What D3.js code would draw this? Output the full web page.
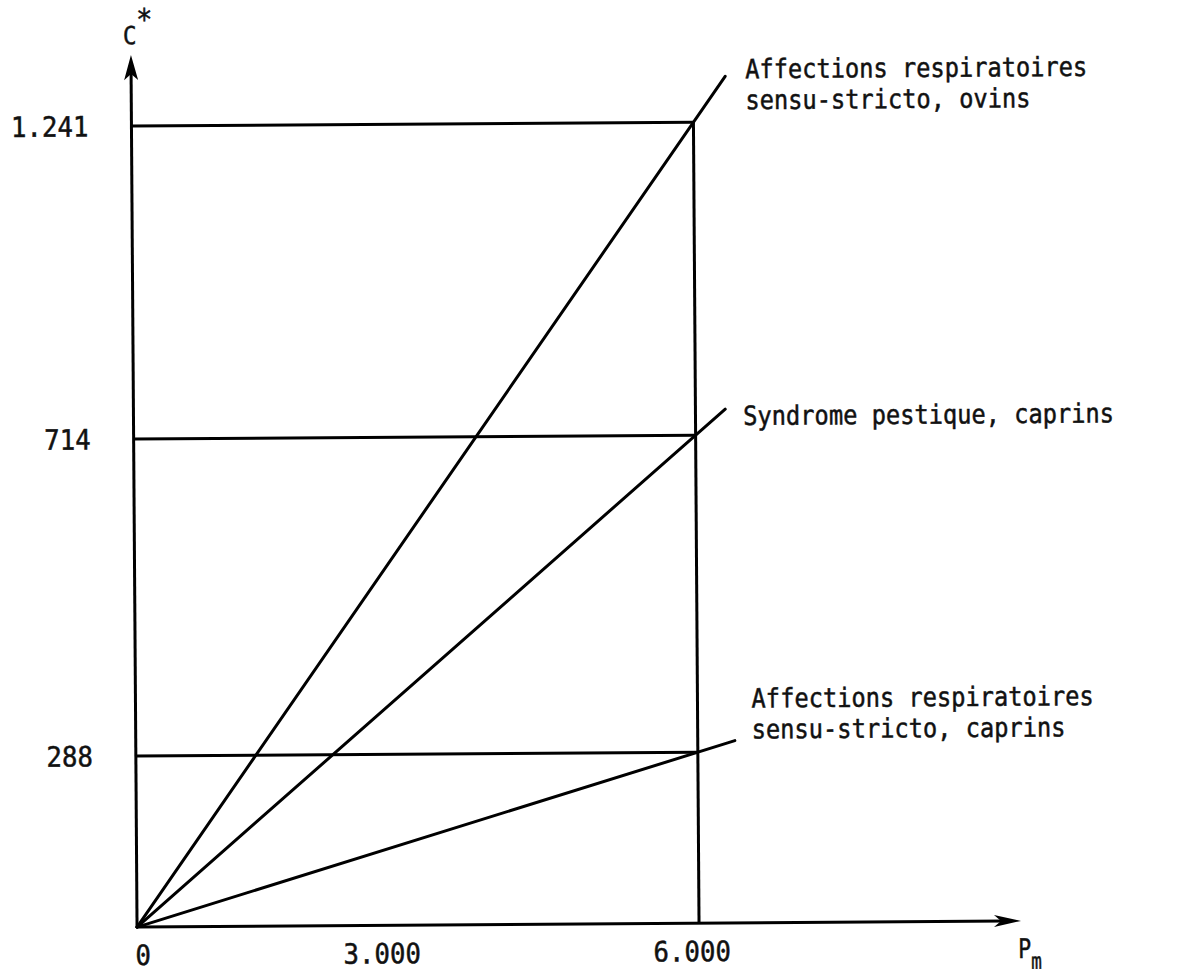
<!DOCTYPE html>
<html>
<head>
<meta charset="utf-8">
<script src="https://cdn.jsdelivr.net/npm/d3@7"></script>
<style>
  html, body { margin: 0; padding: 0; background: #fff; }
  svg { display: block; }
  text { font-family: "DejaVu Sans Mono", "Liberation Mono", monospace; fill: #111; stroke: #111; stroke-width: 0.5px; }
</style>
</head>
<body>
<svg id="chart" width="1199" height="975"></svg>
<script>
// ---------- data ----------
const seriesNames = [
  "Affections respiratoires sensu-stricto, ovins",
  "Syndrome pestique, caprins",
  "Affections respiratoires sensu-stricto, caprins"
];
const seriesLabelLines = [
  ["Affections respiratoires", "sensu-stricto, ovins"],
  ["Syndrome pestique, caprins"],
  ["Affections respiratoires", "sensu-stricto, caprins"]
];
const pmValues = [6000, 6000, 6000];      // P_m at the reference point
const cValues  = [1241, 714, 288];        // C* at the reference point
const xTicks = [0, 3000, 6000];
const xTickLabels = ["0", "3.000", "6.000"];
const yTicks = [288, 714, 1241];
const yTickLabels = ["288", "714", "1.241"];
const xAxisTitle = "P";
const xAxisTitleSub = "m";
const yAxisTitle = "C";
const yAxisTitleSup = "*";

// ---------- layout (positions / styles, not data) ----------
const layout = {
  xRange: [134, 379, 696],          // schematic (non-uniform) axis as drawn
  yRange: [924, 753, 436, 123],
  yAxisTop: 52,
  xAxisRight: 1018,
  lineExtend: [1.057, 1.053, 1.066],
  labelOffset: [[20, 2], [18, 16], [17, -33]],
  labelLineGap: 31,
  xTickDx: [6, 0, -7],
  rotation: -0.4, rotCenter: [580, 490]
};

const svg = d3.select("#chart");
const root = svg.append("g")
  .attr("transform", `rotate(${layout.rotation},${layout.rotCenter[0]},${layout.rotCenter[1]})`);

const x = d3.scaleLinear().domain(xTicks).range(layout.xRange);
const y = d3.scaleLinear().domain([0].concat(yTicks)).range(layout.yRange);

function addText(g, px, py, str, size, sx, anchor) {
  return g.append("text")
    .attr("transform", `translate(${px},${py}) scale(${sx},1)`)
    .attr("text-anchor", anchor || "start")
    .attr("font-size", size)
    .text(str);
}

const x0 = x(0), y0 = y(0);
const xMax = x(d3.max(pmValues));
const yMaxVal = d3.max(cValues);
const SW = 3;

// Axes
root.append("line")
  .attr("x1", x0).attr("y1", y0 + 1).attr("x2", x0).attr("y2", layout.yAxisTop + 16)
  .attr("stroke", "#000").attr("stroke-width", SW);
root.append("line")
  .attr("x1", x0).attr("y1", y0).attr("x2", layout.xAxisRight - 16).attr("y2", y0)
  .attr("stroke", "#000").attr("stroke-width", SW);

// Arrowheads
const ty = layout.yAxisTop;
root.append("path")
  .attr("d", `M${x0},${ty} L${x0 - 7},${ty + 25} L${x0},${ty + 19} L${x0 + 7},${ty + 25} Z`)
  .attr("fill", "#000");
const tx = layout.xAxisRight;
root.append("path")
  .attr("d", `M${tx},${y0} L${tx - 27},${y0 - 6} L${tx - 20},${y0} L${tx - 27},${y0 + 6} Z`)
  .attr("fill", "#000");

// Horizontal reference lines
root.selectAll("line.h").data(cValues).enter().append("line")
  .attr("class", "h")
  .attr("x1", x0).attr("x2", xMax)
  .attr("y1", d => y(d)).attr("y2", d => y(d))
  .attr("stroke", "#000").attr("stroke-width", SW);

// Vertical line at P_m = 6000
root.append("line")
  .attr("x1", xMax).attr("x2", xMax)
  .attr("y1", y0).attr("y2", y(yMaxVal) - 1)
  .attr("stroke", "#000").attr("stroke-width", SW);

// Diagonal lines
const ends = cValues.map((c, i) => {
  const px = x(pmValues[i]), py = y(c);
  const k = layout.lineExtend[i];
  return [x0 + (px - x0) * k, y0 + (py - y0) * k];
});
root.selectAll("line.d").data(ends).enter().append("line")
  .attr("class", "d")
  .attr("x1", x0).attr("y1", y0)
  .attr("x2", d => d[0]).attr("y2", d => d[1])
  .attr("stroke", "#000").attr("stroke-width", SW)
  .attr("stroke-linecap", "round");

// Series labels
seriesLabelLines.forEach((lines, i) => {
  const [ox, oy] = layout.labelOffset[i];
  lines.forEach((ln, j) => {
    addText(root, ends[i][0] + ox, ends[i][1] + oy + j * layout.labelLineGap, ln, 26.5, 0.894, "start");
  });
});

// Y tick labels
yTicks.forEach((v, i) => {
  addText(root, 91, y(v) + 10, yTickLabels[i], 28, 0.92, "end");
});

// X tick labels
xTicks.forEach((v, i) => {
  addText(root, x(v) + layout.xTickDx[i], y0 + 38, xTickLabels[i], 28, 0.92, "middle");
});

// Axis titles
const yt = root.append("text")
  .attr("transform", `translate(${x0 - 8},41) scale(0.9,1)`)
  .attr("font-size", 25);
yt.append("tspan").text(yAxisTitle);
yt.append("tspan").attr("font-size", 30).attr("dy", -14).attr("dx", 0).text(yAxisTitleSup);

const xt = root.append("text")
  .attr("transform", `translate(${tx - 3},961) scale(0.8,1)`)
  .attr("font-size", 27);
xt.append("tspan").text(xAxisTitle);
xt.append("tspan").attr("font-size", 22).attr("dy", 11).text(xAxisTitleSub);
</script>
</body>
</html>
